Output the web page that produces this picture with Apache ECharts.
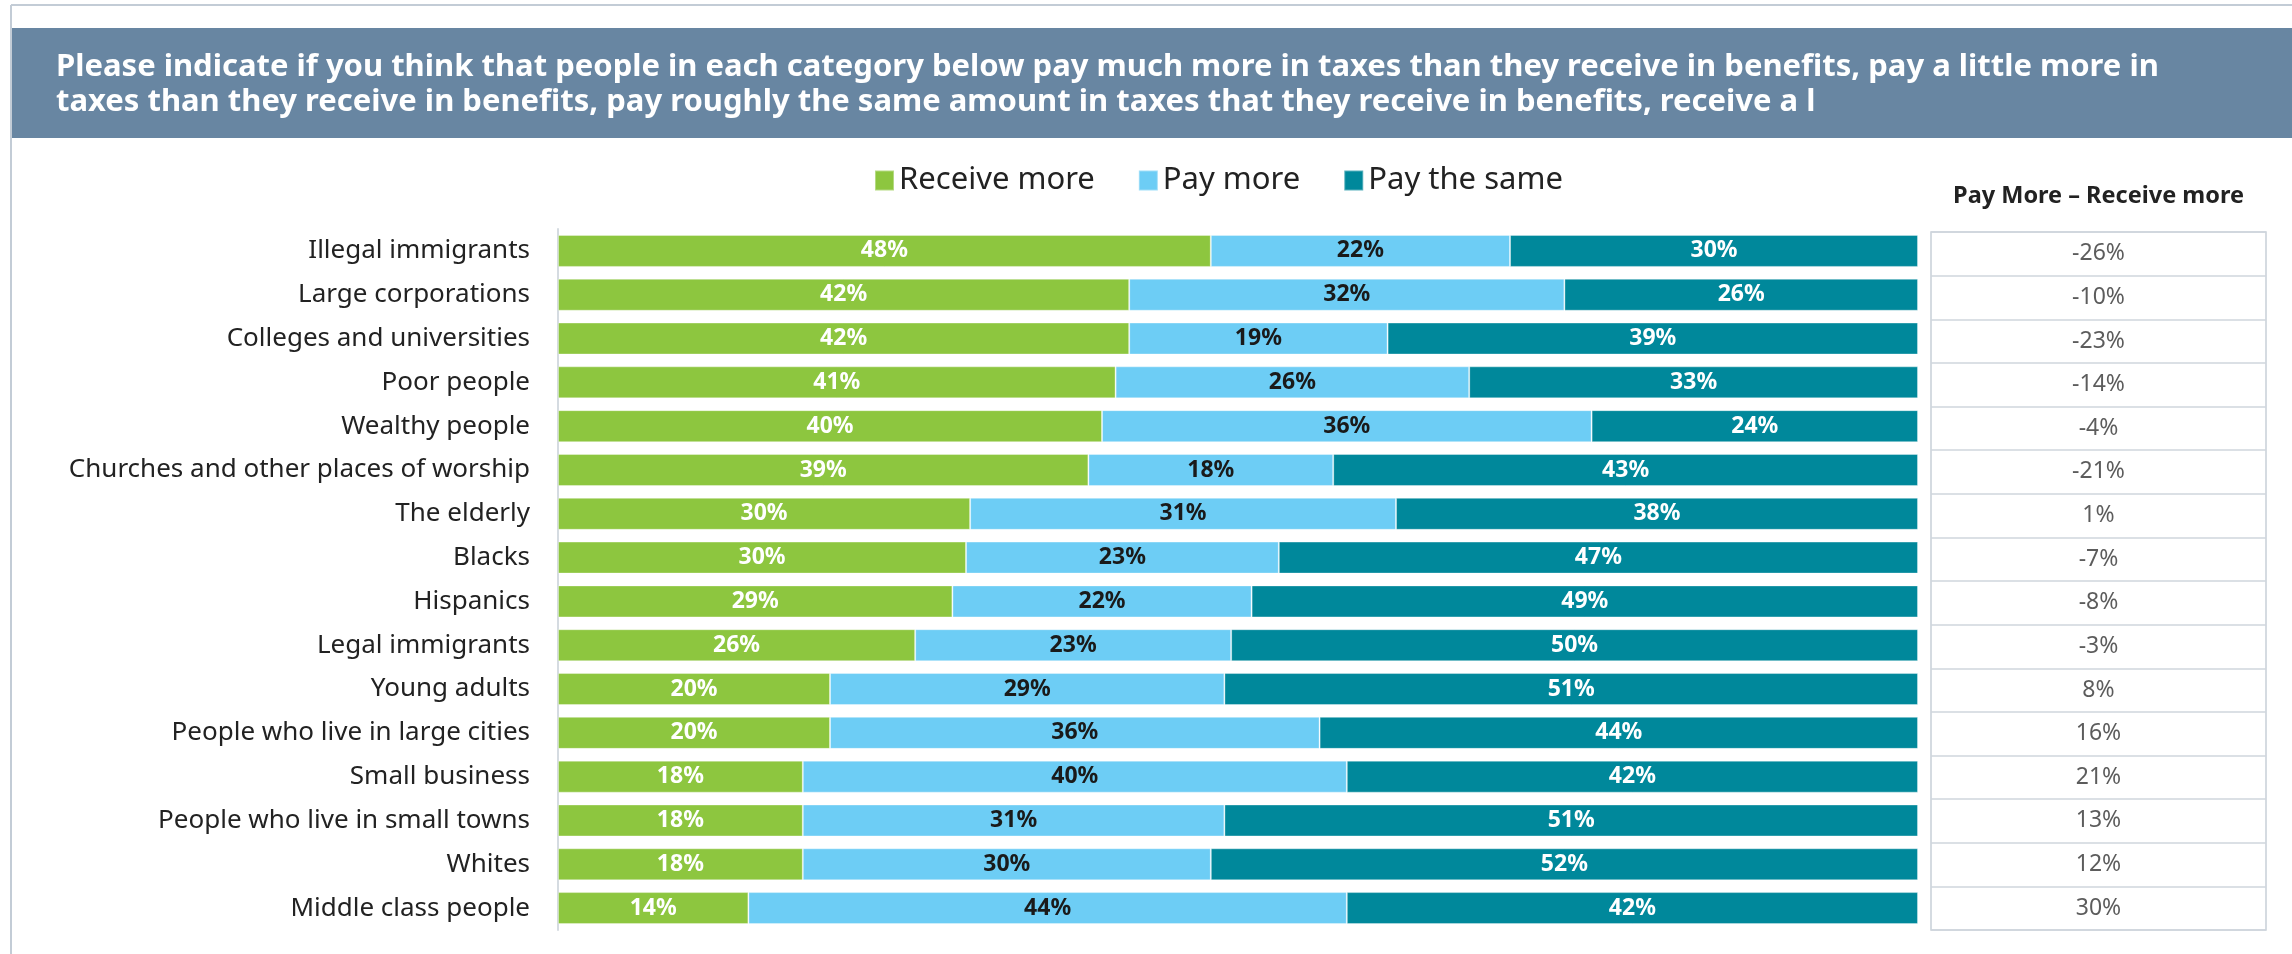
<!DOCTYPE html>
<html>
<head>
<meta charset="utf-8">
<title>Taxes vs benefits</title>
<script src="https://cdn.jsdelivr.net/npm/echarts@6.0.0/dist/echarts.min.js"></script>
<style>
	html, body { margin: 0; padding: 0; background: #fff; }
	#main { width: 2292px; height: 954px; }
</style>
</head>
<body>
<div id="main"></div>
<script>
	var categories = ['Illegal immigrants', 'Large corporations', 'Colleges and universities', 'Poor people',
		'Wealthy people', 'Churches and other places of worship', 'The elderly', 'Blacks', 'Hispanics',
		'Legal immigrants', 'Young adults', 'People who live in large cities', 'Small business',
		'People who live in small towns', 'Whites', 'Middle class people'];
	var receiveMore = [48, 42, 42, 41, 40, 39, 30, 30, 29, 26, 20, 20, 18, 18, 18, 14];
	var payMore = [22, 32, 19, 26, 36, 18, 31, 23, 22, 23, 29, 36, 40, 31, 30, 44];
	var paySame = [30, 26, 39, 33, 24, 43, 38, 47, 49, 50, 51, 44, 42, 51, 52, 42];
	var netDiff = [-26, -10, -23, -14, -4, -21, 1, -7, -8, -3, 8, 16, 21, 13, 12, 30];

	var titleText = 'Please indicate if you think that people in each category below pay much more in taxes than they receive in benefits, pay a little more in\n' +
		'taxes than they receive in benefits, pay roughly the same amount in taxes that they receive in benefits, receive a l';

	var font = 'Noto Sans';

	// 100% stacked: each row is scaled to its own total
	function share(arr) {
		return arr.map(function (v, i) {
			return v / (receiveMore[i] + payMore[i] + paySame[i]) * 100;
		});
	}

	function barSeries(name, raw, color, labelColor) {
		return {
			name: name,
			type: 'bar',
			stack: 'total',
			barWidth: 32,
			data: share(raw),
			itemStyle: { color: color, borderColor: 'rgba(255,255,255,0.35)', borderWidth: 1 },
			label: {
				show: true,
				position: 'inside',
				color: labelColor,
				fontFamily: font,
				fontWeight: 'bold',
				fontSize: 23,
				formatter: function (p) { return raw[p.dataIndex] + '%'; }
			}
		};
	}

	var myChart = echarts.init(document.getElementById('main'));
	option = {
		backgroundColor: '#fff',
		animation: false,
		graphic: [
			{ type: 'line', z: 0, shape: { x1: 11, y1: 5, x2: 2292, y2: 5 }, style: { stroke: '#c3ccd6', lineWidth: 2 } },
			{ type: 'line', z: 0, shape: { x1: 11, y1: 5, x2: 11, y2: 954 }, style: { stroke: '#c3ccd6', lineWidth: 2 } },
			{ type: 'rect', z: 0, shape: { x: 12, y: 28, width: 2280, height: 110 }, style: { fill: '#6886a2' } }
		],
		title: {
			text: titleText,
			left: 56,
			top: 50,
			padding: 0,
			textStyle: {
				color: '#fff',
				fontFamily: font,
				fontWeight: 'bold',
				fontSize: 31,
				lineHeight: 35
			}
		},
		legend: {
			left: 874,
			top: 165,
			padding: 0,
			icon: 'rect',
			itemWidth: 19,
			itemHeight: 20,
			itemGap: 43,
			textStyle: { fontFamily: font, fontSize: 31, color: '#222' },
			data: ['Receive more', 'Pay more', 'Pay the same']
		},
		grid: [
			{ left: 558, top: 229, width: 1360, height: 701 },
			{ left: 1931, top: 232, width: 335, height: 698, show: true, borderColor: '#c8d0d8', borderWidth: 1.5 }
		],
		xAxis: [
			{ type: 'value', min: 0, max: 100, show: false },
			{
				gridIndex: 1, type: 'value', min: 0, max: 1, position: 'top',
				name: 'Pay More – Receive more', nameLocation: 'middle', nameGap: 24,
				nameTextStyle: { fontFamily: font, fontWeight: 'bold', fontSize: 23.5, color: '#222' },
				axisLine: { show: false }, axisTick: { show: false }, axisLabel: { show: false }, splitLine: { show: false }
			}
		],
		yAxis: [
			{
				type: 'category',
				inverse: true,
				data: categories,
				axisLine: { lineStyle: { color: '#d5dbe1', width: 2 } },
				axisTick: { length: 10, lineStyle: { color: '#d5dbe1', width: 2 } },
				axisLabel: { margin: 28, fontFamily: font, fontSize: 26, color: '#222' }
			},
			{
				gridIndex: 1,
				type: 'category',
				inverse: true,
				data: categories,
				axisLine: { show: false }, axisTick: { show: false }, axisLabel: { show: false },
				splitLine: { show: true, lineStyle: { color: '#cfd6dd', width: 1.5 } }
			}
		],
		series: [
			barSeries('Receive more', receiveMore, '#8dc63f', '#fff'),
			barSeries('Pay more', payMore, '#6dcdf5', '#1a1a1a'),
			barSeries('Pay the same', paySame, '#00889b', '#fff'),
			{
				type: 'scatter',
				xAxisIndex: 1,
				yAxisIndex: 1,
				silent: true,
				symbolSize: 1,
				itemStyle: { color: 'rgba(0,0,0,0)' },
				data: netDiff.map(function (v, i) { return [0.5, i]; }),
				label: {
					show: true,
					position: 'inside',
					fontFamily: font,
					fontSize: 23,
					color: '#333',
					formatter: function (p) { return netDiff[p.dataIndex] + '%'; }
				}
			}
		]
	};
	myChart.setOption(option);
</script>
</body>
</html>
